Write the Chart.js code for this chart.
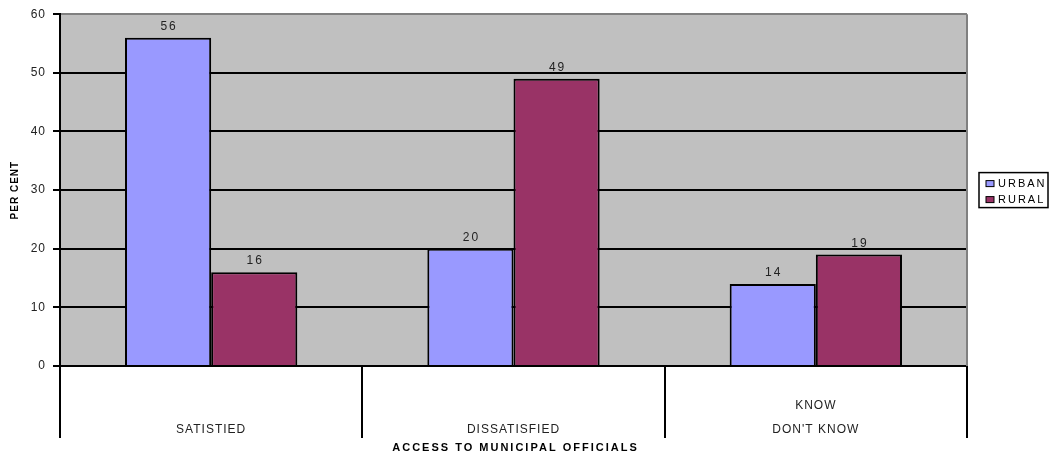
<!DOCTYPE html>
<html>
<head>
<meta charset="utf-8">
<script src="https://cdn.jsdelivr.net/npm/chart.js@4/dist/chart.umd.min.js"></script>
<style>
  html, body { margin: 0; padding: 0; background: #fff; }
  canvas { display: block; }
</style>
</head>
<body>
<canvas id="chart" width="1049" height="455"></canvas>
<script>
// Categories (multi-line labels: first line blank so single labels sit on the lower line)
const categories = [['', 'SATISTIED'], ['', 'DISSATISFIED'], ['KNOW', "DON'T KNOW"]];
const seriesNames = ['URBAN', 'RURAL'];
const urbanValues = [56, 20, 14];
const ruralValues = [16, 49, 19];
const yTickValues = [0, 10, 20, 30, 40, 50, 60];
const xAxisTitle = 'ACCESS TO MUNICIPAL OFFICIALS';

const FONT = "'Liberation Sans', Arial, sans-serif";

// Letter spacing for canvas text
const spacing = {
  id: 'spacing',
  beforeUpdate(chart) { chart.ctx.letterSpacing = '1px'; },
  beforeDraw(chart) { chart.ctx.letterSpacing = '1px'; }
};

// Gray plot background and right frame edge
const plotFrame = {
  id: 'plotFrame',
  beforeDraw(chart) {
    const { ctx, chartArea: a } = chart;
    ctx.save();
    ctx.fillStyle = '#C0C0C0';
    ctx.fillRect(a.left, a.top, a.right - a.left, a.bottom - a.top);
    ctx.restore();
  },
  beforeDatasetsDraw(chart) {
    const { ctx, chartArea: a } = chart;
    ctx.save();
    ctx.strokeStyle = '#808080';
    ctx.lineWidth = 2;
    ctx.beginPath();
    ctx.moveTo(a.right, a.top);
    ctx.lineTo(a.right, a.bottom);
    ctx.stroke();
    ctx.restore();
  }
};

// Value labels above each bar
const valueLabels = {
  id: 'valueLabels',
  afterDatasetsDraw(chart) {
    const { ctx } = chart;
    ctx.save();
    ctx.font = '12px ' + FONT;
    ctx.fillStyle = '#222';
    ctx.textAlign = 'center';
    ctx.textBaseline = 'bottom';
    ctx.letterSpacing = '2px';
    chart.data.datasets.forEach((ds, di) => {
      chart.getDatasetMeta(di).data.forEach((bar, i) => {
        ctx.fillText(String(ds.data[i]), bar.x + 1, bar.y - 5);
      });
    });
    ctx.restore();
  }
};

// Widely spaced bold category-axis title under the tick labels
const axisTitle = {
  id: 'axisTitle',
  afterDraw(chart) {
    const { ctx, chartArea: a } = chart;
    ctx.save();
    ctx.letterSpacing = '2px';
    ctx.font = 'bold 11px ' + FONT;
    ctx.fillStyle = '#000';
    ctx.textAlign = 'center';
    ctx.textBaseline = 'middle';
    ctx.fillText(xAxisTitle, (a.left + a.right) / 2 + 2, chart.height - 7);
    ctx.restore();
  }
};

// Boxed legend to the right of the plot
const boxLegend = {
  id: 'boxLegend',
  afterDraw(chart) {
    const { ctx, chartArea: a } = chart;
    const left = a.right + 12;
    const rowH = 16;
    const h = 35;
    const top = (a.top + a.bottom) / 2 - h / 2;
    ctx.save();
    ctx.letterSpacing = '2px';
    ctx.strokeStyle = '#000';
    ctx.lineWidth = 1.5;
    ctx.strokeRect(left, top, 69, h);
    ctx.font = '11px ' + FONT;
    ctx.textBaseline = 'middle';
    ctx.textAlign = 'left';
    chart.data.datasets.forEach((ds, i) => {
      const cy = top + 11 + i * rowH;
      ctx.fillStyle = ds.backgroundColor;
      ctx.fillRect(left + 7, cy - 3, 8, 6);
      ctx.lineWidth = 1;
      ctx.strokeStyle = '#000';
      ctx.strokeRect(left + 7, cy - 3, 8, 6);
      ctx.fillStyle = '#000';
      ctx.fillText(ds.label, left + 19, cy + 0.5);
    });
    ctx.restore();
  }
};

new Chart(document.getElementById('chart'), {
  type: 'bar',
  data: {
    labels: categories,
    datasets: [
      { label: seriesNames[0], data: urbanValues, backgroundColor: '#9999FF', borderColor: '#000', borderWidth: 2 },
      { label: seriesNames[1], data: ruralValues, backgroundColor: '#993366', borderColor: '#000', borderWidth: 2 }
    ]
  },
  options: {
    responsive: false,
    animation: false,
    devicePixelRatio: 1,
    layout: { padding: { top: 14, right: 82, left: 0, bottom: 0 } },
    datasets: { bar: { categoryPercentage: 0.57, barPercentage: 1 } },
    plugins: {
      legend: { display: false },
      tooltip: { enabled: false }
    },
    scales: {
      x: {
        offset: true,
        afterFit(scale) { scale.height = 89; },
        border: { display: true, color: '#000', width: 2 },
        grid: {
          offset: true,
          drawOnChartArea: false,
          drawTicks: true,
          tickLength: 72,
          color: '#000',
          lineWidth: 2
        },
        ticks: {
          autoSkip: false,
          maxRotation: 0,
          padding: -44,
          color: '#222',
          font: { family: FONT, size: 12, lineHeight: 2 }
        },
        title: { display: false }
      },
      y: {
        min: 0,
        max: 60,
        afterFit(scale) { scale.width = 60; },
        afterBuildTicks(scale) { scale.ticks = yTickValues.map(v => ({ value: v })); },
        border: { display: true, color: '#000', width: 2 },
        grid: {
          color: ctx => (ctx.tick && ctx.tick.value === 60) ? '#808080' : '#000',
          tickColor: '#000',
          lineWidth: 2,
          tickLength: 7
        },
        ticks: {
          padding: 7,
          color: '#222',
          font: { family: FONT, size: 12 }
        },
        title: {
          display: true,
          text: 'PER CENT',
          color: '#000',
          padding: { top: 9, bottom: 0 },
          font: { family: FONT, size: 10, weight: 'bold' }
        }
      }
    }
  },
  plugins: [spacing, plotFrame, valueLabels, axisTitle, boxLegend]
});
</script>
</body>
</html>
